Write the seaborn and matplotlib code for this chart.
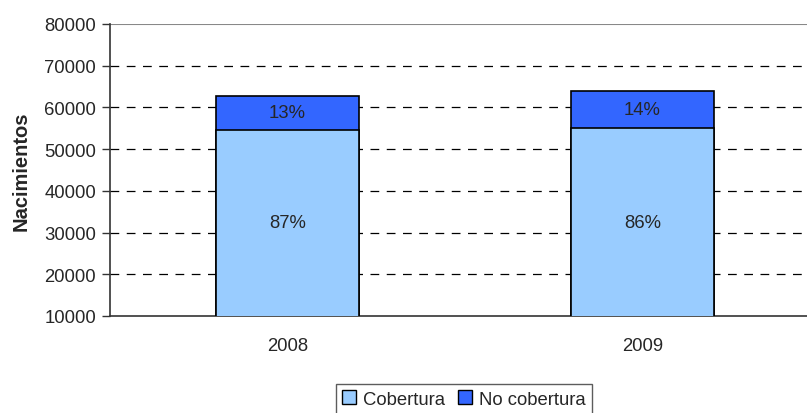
import matplotlib
matplotlib.use("Agg")
import matplotlib.pyplot as plt
import seaborn as sns
import pandas as pd
from matplotlib.patches import Patch

years = ["2008", "2009"]
cobertura = [54600, 54950]
no_cobertura = [8150, 9000]
pct_cob = ["87%", "86%"]
pct_no = ["13%", "14%"]
yticks = [10000, 20000, 30000, 40000, 50000, 60000, 70000, 80000]

sns.set_style("white")
plt.rcParams['font.family'] = ['Liberation Sans', 'DejaVu Sans']

c_light = "#99CCFF"
c_dark = "#3366FF"
FS = 13.3

totals = [a + b for a, b in zip(cobertura, no_cobertura)]
df = pd.DataFrame({"year": years, "cob": cobertura, "total": totals})

fig = plt.figure(figsize=(8.07, 4.14), dpi=100)
ax = fig.add_axes([110 / 807, (414 - 317) / 414, 710 / 807, 292 / 414])

sns.barplot(data=df, x="year", y="total", color=c_dark, width=0.405,
            edgecolor="black", linewidth=1.2, ax=ax, zorder=3, saturation=1)
sns.barplot(data=df, x="year", y="cob", color=c_light, width=0.405,
            edgecolor="black", linewidth=1.2, ax=ax, zorder=4, saturation=1)

ax.set_ylim(10000, 80000)
ax.set_xlim(-0.5, 1.5)
ax.set_yticks(yticks)
ax.set_yticklabels([str(v) for v in yticks], fontsize=FS)
ax.set_xticks([0, 1])
ax.set_xticklabels(years, fontsize=FS)
ax.set_xticks([0.5], minor=True)
ax.tick_params(axis="x", which="major", length=0, pad=15)
ax.tick_params(axis="x", which="minor", length=6, width=1, color="#333333", direction="out")
ax.tick_params(axis="y", length=6, width=1, color="#333333", direction="out", left=True, pad=4)

for v in yticks[1:-1]:
    ax.axhline(v, color="black", linestyle=(0, (7, 6)), linewidth=0.9, zorder=1)
ax.axhline(80000, color="#888888", linewidth=1.5, zorder=1)

for s in ["top", "right"]:
    ax.spines[s].set_visible(False)
for s in ["left", "bottom"]:
    ax.spines[s].set_color("#333333")
    ax.spines[s].set_linewidth(1.2)

ax.set_xlabel("")
ax.set_ylabel("Nacimientos", fontsize=14.5, fontweight="bold", labelpad=10)

for i in range(len(years)):
    ax.text(i, (10000 + cobertura[i]) / 2, pct_cob[i], ha="center", va="center",
            fontsize=FS, zorder=5)
    ax.text(i, cobertura[i] + no_cobertura[i] / 2, pct_no[i], ha="center", va="center",
            fontsize=FS, zorder=5)

handles = [Patch(facecolor=c_light, edgecolor="black", label="Cobertura"),
           Patch(facecolor=c_dark, edgecolor="black", label="No cobertura")]
fig.legend(handles=handles, loc="center", bbox_to_anchor=(464 / 807, 1 - 400 / 414),
           ncol=2, fontsize=FS, frameon=True, fancybox=False, edgecolor="#333333",
           handlelength=0.75, handleheight=0.75, handletextpad=0.4, columnspacing=0.7,
           borderpad=0.35, borderaxespad=0)

fig.savefig("out.png", dpi=100)
